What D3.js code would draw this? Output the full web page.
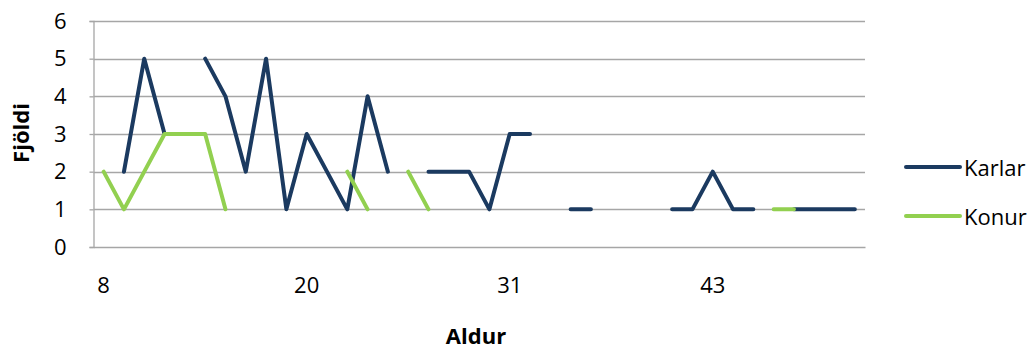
<!DOCTYPE html>
<html>
<head>
<meta charset="utf-8">
<script src="https://cdn.jsdelivr.net/npm/d3@7"></script>
<style>
  html, body { margin: 0; padding: 0; background: #ffffff; }
  svg { display: block; }
  text { font-family: "Open Sans", Lato, sans-serif; fill: #000; }
</style>
</head>
<body>
<svg id="chart" width="1031" height="351"></svg>
<script>
// Age categories (only every 10th one is labelled on the axis)
const ages = [8, 9, 10, 11, 12, 13, 14, 15, 16, 18,
              20, 21, 22, 23, 24, 25, 26, 27, 28, 29,
              31, 32, 33, 34, 35, 37, 38, 39, 40, 42,
              43, 44, 45, 46, 47, 48, 50, 52];
const karlar = [null, 2, 5, 3, null, 5, 4, 2, 5, 1,
                3, 2, 1, 4, 2, null, 2, 2, 2, 1,
                3, 3, null, 1, 1, null, null, null, 1, 1,
                2, 1, 1, null, 1, 1, 1, 1];
const konur = [2, 1, 2, 3, 3, 3, 1, null, null, null,
               null, null, 2, 1, null, 2, 1, null, null, null,
               null, null, null, null, null, null, null, null, null, null,
               null, null, null, 1, 1, null, null, null];
const yTicks = [0, 1, 2, 3, 4, 5, 6];
const seriesNames = ["Karlar", "Konur"];
const seriesColors = ["#1B3A60", "#92D050"];

(function () {
const svg = d3.select("#chart");
const pLeft = 93.5, pRight = 865, pTop = 21, pBottom = 247;
const FONT = "'Open Sans', Lato, sans-serif";

const x = d3.scaleBand().domain(ages.map(String)).range([pLeft, pRight]).padding(0);
const y = d3.scaleLinear().domain([0, 6]).range([pBottom, pTop]);
const cx = a => x(String(a)) + x.bandwidth() / 2;

// gridlines
svg.append("g").selectAll("line").data(yTicks.filter(t => t > 0)).join("line")
  .attr("x1", pLeft).attr("x2", pRight)
  .attr("y1", d => Math.round(y(d)) + 0.5).attr("y2", d => Math.round(y(d)) + 0.5)
  .attr("stroke", "#A6A6A6").attr("stroke-width", 1.3);

// y axis
const yAxis = svg.append("g").attr("transform", `translate(${pLeft},0)`)
  .call(d3.axisLeft(y).tickValues(yTicks).tickSize(4).tickPadding(23).tickFormat(d3.format("d")));
yAxis.select(".domain").attr("stroke", "#A6A6A6").attr("stroke-width", 1.3);
yAxis.selectAll(".tick line").attr("stroke", "#A6A6A6").attr("stroke-width", 1.3);
yAxis.selectAll(".tick text").attr("font-size", 22).attr("fill", "#000")
  .style("font-family", FONT);

// x axis
const xAxis = svg.append("g").attr("transform", `translate(0,${pBottom})`)
  .call(d3.axisBottom(x).tickValues(ages.filter((a, i) => i % 10 === 0).map(String))
        .tickSize(0).tickPadding(30));
xAxis.select(".domain").attr("stroke", "#A6A6A6").attr("stroke-width", 1.3);
xAxis.selectAll(".tick text").attr("font-size", 22).attr("fill", "#000")
  .style("font-family", FONT);

// lines
const line = d3.line()
  .defined(d => d.v !== null)
  .x(d => cx(d.a))
  .y(d => y(d.v));

[karlar, konur].forEach((vals, si) => {
  const data = ages.map((a, i) => ({ a, v: vals[i] }));
  svg.append("path").datum(data)
    .attr("d", line)
    .attr("fill", "none")
    .attr("stroke", seriesColors[si])
    .attr("stroke-width", 4)
    .attr("stroke-linejoin", "round")
    .attr("stroke-linecap", "round");
});

// axis titles
svg.append("text")
  .attr("transform", "translate(20,133) rotate(-90)")
  .attr("text-anchor", "middle").attr("dominant-baseline", "central")
  .attr("font-size", 22).attr("font-weight", "bold").text("Fjöldi");
svg.append("text")
  .attr("x", 476).attr("y", 335)
  .attr("text-anchor", "middle").attr("dominant-baseline", "central")
  .attr("font-size", 22).attr("font-weight", "bold").text("Aldur");

// legend
const legend = svg.append("g");
seriesNames.forEach((name, i) => {
  const ly = 167 + i * 49;
  legend.append("line").attr("x1", 906).attr("x2", 960).attr("y1", ly).attr("y2", ly)
    .attr("stroke", seriesColors[i]).attr("stroke-width", 4).attr("stroke-linecap", "round");
  legend.append("text").attr("x", 964).attr("y", ly).attr("dominant-baseline", "central")
    .attr("font-size", 22).text(name);
});
})();
</script>
</body>
</html>
